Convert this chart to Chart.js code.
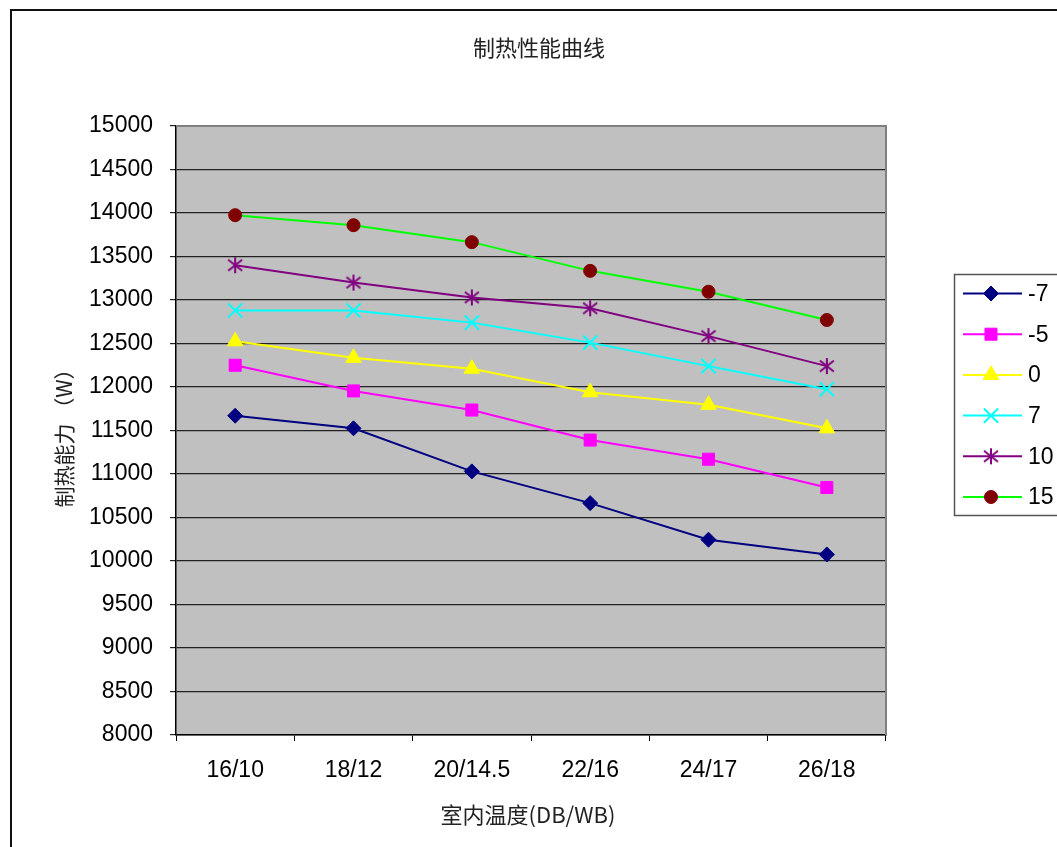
<!DOCTYPE html>
<html>
<head>
<meta charset="utf-8">
<script src="https://cdn.jsdelivr.net/npm/chart.js@4"></script>
<style>
html,body{margin:0;padding:0;background:#fff;}
canvas{display:block;}
</style>
</head>
<body>
<canvas id="c" width="1057" height="847"></canvas>
<script>
// ---- data ----
const categories = ['16/10', '18/12', '20/14.5', '22/16', '24/17', '26/18'];
const seriesLabels = ['-7', '-5', '0', '7', '10', '15'];
const sMinus7 = [11670, 11525, 11030, 10665, 10245, 10075];
const sMinus5 = [12250, 11955, 11735, 11390, 11170, 10845];
const s0 = [12525, 12335, 12210, 11940, 11795, 11525];
const s7 = [12880, 12880, 12740, 12510, 12240, 11975];
const s10 = [13400, 13200, 13030, 12905, 12585, 12240];
const s15 = [13975, 13860, 13665, 13335, 13095, 12770];
const yMin = 8000, yMax = 15000, yStep = 500;
const chartTitle = '制热性能曲线';
const xTitle = '室内温度(DB/WB)';
const yTitle = '制热能力 （W）';

// asterisk marker
const asterisk = (() => {
  const c = document.createElement('canvas');
  c.width = 18; c.height = 18;
  const g = c.getContext('2d');
  g.strokeStyle = '#800080'; g.lineWidth = 2;
  g.beginPath();
  g.moveTo(9, 1); g.lineTo(9, 17);
  g.moveTo(2, 3.5); g.lineTo(16, 14.5);
  g.moveTo(2, 14.5); g.lineTo(16, 3.5);
  g.stroke();
  return c;
})();

function ds(label, data, line, fill, style, radius, bw) {
  return {
    label, data,
    borderColor: line, borderWidth: 2, fill: false, tension: 0,
    pointStyle: style, pointRadius: radius, pointHoverRadius: radius,
    pointBackgroundColor: fill, pointBorderColor: fill, pointBorderWidth: bw
  };
}

const datasets = [
  ds(seriesLabels[0], sMinus7, '#000080', '#000080', 'rectRot', 7.5, 1),
  ds(seriesLabels[1], sMinus5, '#FF00FF', '#FF00FF', 'rect', 8.5, 1),
  ds(seriesLabels[2], s0, '#FFFF00', '#FFFF00', 'triangle', 9, 1),
  ds(seriesLabels[3], s7, '#00FFFF', '#00FFFF', 'crossRot', 10, 2),
  ds(seriesLabels[4], s10, '#800080', '#800080', asterisk, 9, 0),
  ds(seriesLabels[5], s15, '#00FF00', '#800000', 'circle', 6.5, 1)
];

const decor = {
  id: 'decor',
  beforeDraw(chart) {
    const {ctx, chartArea: a} = chart;
    ctx.save();
    ctx.fillStyle = '#fff';
    ctx.fillRect(0, 0, chart.width, chart.height);
    ctx.fillStyle = '#C0C0C0';
    ctx.fillRect(a.left, a.top, a.right - a.left, a.bottom - a.top);
    ctx.restore();
  },
  beforeDatasetsDraw(chart) {
    const {ctx, chartArea: a} = chart;
    ctx.save();
    ctx.strokeStyle = '#808080';
    ctx.lineWidth = 2;
    ctx.beginPath();
    ctx.moveTo(a.left, a.top);
    ctx.lineTo(a.right, a.top);
    ctx.lineTo(a.right, a.bottom);
    ctx.stroke();
    ctx.restore();
  },
  afterDraw(chart) {
    const {ctx} = chart;
    ctx.save();
    // outer frame
    ctx.strokeStyle = '#111';
    ctx.lineWidth = 2;
    ctx.beginPath();
    ctx.moveTo(11, chart.height + 2);
    ctx.lineTo(11, 10);
    ctx.lineTo(chart.width + 2, 10);
    ctx.stroke();
    // titles
    ctx.fillStyle = '#222';
    ctx.textAlign = 'center';
    ctx.textBaseline = 'middle';
    ctx.font = '22px "Noto Sans CJK SC", sans-serif';
    ctx.fillText(chartTitle, 539, 48);
    ctx.font = '22px "Noto Sans CJK SC", sans-serif';
    ctx.fillText(xTitle, 528, 815);
    ctx.save();
    ctx.translate(64, 433);
    ctx.rotate(-Math.PI / 2);
    ctx.font = '21px "Noto Sans CJK SC", sans-serif';
    ctx.fillText(yTitle, 0, 0);
    ctx.restore();
    // legend
    ctx.strokeStyle = '#555';
    ctx.lineWidth = 1.5;
    ctx.strokeRect(954.5, 274.5, 140, 241);
    chart.data.datasets.forEach((d, i) => {
      const y = 293.5 + i * 40.7;
      ctx.strokeStyle = d.borderColor;
      ctx.lineWidth = 2;
      ctx.beginPath();
      ctx.moveTo(963, y);
      ctx.lineTo(1022, y);
      ctx.stroke();
      ctx.fillStyle = d.pointBackgroundColor;
      ctx.strokeStyle = d.pointBorderColor;
      ctx.lineWidth = d.pointBorderWidth;
      Chart.helpers.drawPoint(ctx, {
        pointStyle: d.pointStyle, radius: d.pointRadius, rotation: 0,
        borderWidth: d.pointBorderWidth
      }, 991, y);
      ctx.fillStyle = '#000';
      ctx.textAlign = 'left';
      ctx.textBaseline = 'middle';
      ctx.font = '23px "Liberation Sans", Arial, sans-serif';
      ctx.fillText(d.label, 1028, y + 1);
    });
    ctx.restore();
  }
};

new Chart(document.getElementById('c'), {
  type: 'line',
  data: {labels: categories, datasets},
  options: {
    responsive: false,
    animation: false,
    events: [],
    layout: {padding: {top: 126, right: 171, bottom: 0, left: 0}},
    plugins: {legend: {display: false}, title: {display: false}, tooltip: {enabled: false}},
    scales: {
      x: {
        offset: true,
        grid: {offset: true, drawOnChartArea: false, drawTicks: true, tickLength: 6, color: '#000', lineWidth: 1},
        border: {color: '#000', width: 1.5},
        ticks: {color: '#000', padding: 16, font: {family: '"Liberation Sans", Arial, sans-serif', size: 23}, maxRotation: 0, autoSkip: false},
        afterFit(s) { s.height = 112; }
      },
      y: {
        min: yMin, max: yMax,
        grid: {color: '#222', lineWidth: 1.2, tickLength: 6, drawTicks: true},
        border: {color: '#000', width: 1.5},
        ticks: {stepSize: yStep, color: '#000', padding: 17, font: {family: '"Liberation Sans", Arial, sans-serif', size: 23}, callback: v => String(v)},
        afterFit(s) { s.width = 176; }
      }
    }
  },
  plugins: [decor]
});
</script>
</body>
</html>
